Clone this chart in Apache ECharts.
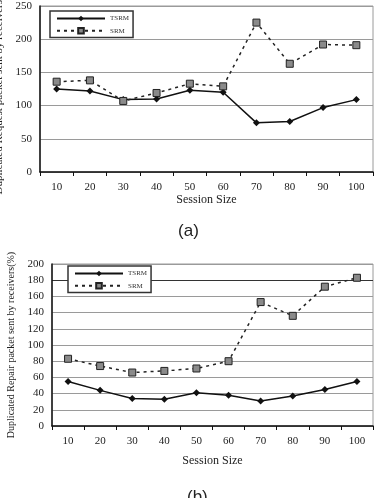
<!DOCTYPE html>
<html>
<head>
<meta charset="utf-8">
<script src="https://cdn.jsdelivr.net/npm/echarts@6/dist/echarts.min.js"></script>
<style>
  html, body { margin: 0; padding: 0; background: #fff; }
  #main { width: 377px; height: 498px; }
</style>
</head>
<body>
<div id="main"></div>
<script>
// session sizes shared by both panels
const sessionSizes = ["10", "20", "30", "40", "50", "60", "70", "80", "90", "100"];

// (a) duplicated request packets
const requestTSRM = [125, 122, 109, 110, 123, 120, 74, 76, 97, 109];
const requestSRM = [136, 138, 107, 119, 133, 129, 225, 163, 192, 191];

// (b) duplicated repair packets
const repairTSRM = [55, 44, 34, 33, 41, 38, 31, 37, 45, 55];
const repairSRM = [83, 74, 66, 68, 71, 80, 153, 136, 172, 183];

const serif = "Liberation Serif";
const gridColor = "#9a9a9a";

function xAxisFor(gridIndex, nameGap) {
  return {
    type: "category",
    gridIndex: gridIndex,
    data: sessionSizes,
    boundaryGap: true,
    name: "Session Size",
    nameLocation: "middle",
    nameGap: nameGap,
    nameTextStyle: { fontFamily: serif, fontSize: 12, color: "#222" },
    axisLine: { lineStyle: { color: "#111", width: 1.5 } },
    axisTick: { show: true, length: 4, lineStyle: { color: "#111" } },
    axisLabel: { fontFamily: serif, fontSize: 11, color: "#222", margin: 10 },
  };
}

function yAxisFor(gridIndex, max, interval, name, nameSize, nameGap, lineColors) {
  return {
    type: "value",
    gridIndex: gridIndex,
    min: 0,
    max: max,
    interval: interval,
    name: name,
    nameLocation: "middle",
    nameGap: nameGap,
    nameTextStyle: { fontFamily: serif, fontSize: nameSize, color: "#222" },
    axisLine: { show: true, lineStyle: { color: "#111", width: 1.5 } },
    axisTick: { show: false },
    axisLabel: { fontFamily: serif, fontSize: 11, color: "#222", margin: 8 },
    splitLine: { lineStyle: { color: lineColors, width: 1 } },
  };
}

function tsrmSeries(idx, data) {
  return {
    name: "TSRM",
    type: "line",
    xAxisIndex: idx,
    yAxisIndex: idx,
    data: data,
    symbol: "diamond",
    symbolSize: 7,
    lineStyle: { color: "#111", width: 1.5, type: "solid" },
    itemStyle: { color: "#111" },
  };
}

function srmSeries(idx, data) {
  return {
    name: "SRM",
    type: "line",
    xAxisIndex: idx,
    yAxisIndex: idx,
    data: data,
    symbol: "rect",
    symbolSize: 7,
    lineStyle: { color: "#222", width: 1.5, type: [3, 4] },
    itemStyle: { color: "#8a8a8a", borderColor: "#222", borderWidth: 1 },
  };
}

function legendAt(left, top) {
  return {
    orient: "vertical",
    left: left,
    top: top,
    data: ["TSRM", "SRM"],
    itemWidth: 48,
    itemHeight: 7,
    itemGap: 5,
    padding: [4, 4, 3, 6],
    borderColor: "#333",
    borderWidth: 1.5,
    backgroundColor: "#fff",
    selectedMode: false,
    textStyle: { fontFamily: serif, fontSize: 7, color: "#333" },
  };
}

const chart = echarts.init(document.getElementById("main"));

chart.setOption({
  animation: false,
  backgroundColor: "#fff",
  title: [
    { text: "(a)", left: "center", top: 218, textStyle: { fontFamily: "Liberation Sans", fontSize: 17, fontWeight: "normal", color: "#222" } },
    { text: "(b)", left: 182, top: 484, textStyle: { fontFamily: "Liberation Sans", fontSize: 17, fontWeight: "normal", color: "#222" } },
  ],
  legend: [legendAt(50, 11), legendAt(68, 266)],
  grid: [
    { left: 40, right: 4, top: 6, height: 166, show: true, borderColor: gridColor, borderWidth: 1, outerBoundsMode: "none" },
    { left: 52, right: 4, top: 264, height: 162, show: true, borderColor: gridColor, borderWidth: 1, outerBoundsMode: "none" },
  ],
  xAxis: [xAxisFor(0, 21), xAxisFor(1, 29)],
  yAxis: [
    yAxisFor(0, 250, 50, "Duplicated Request packet sent by receivers(%)", 11, 32, gridColor),
    yAxisFor(1, 200, 20, "Duplicated Repair packet sent by receivers(%)", 10, 35,
      [gridColor, gridColor, gridColor, gridColor, gridColor, gridColor, gridColor, gridColor, gridColor, "#333", gridColor]),
  ],
  series: [
    tsrmSeries(0, requestTSRM),
    srmSeries(0, requestSRM),
    tsrmSeries(1, repairTSRM),
    srmSeries(1, repairSRM),
  ],
});
</script>
</body>
</html>
